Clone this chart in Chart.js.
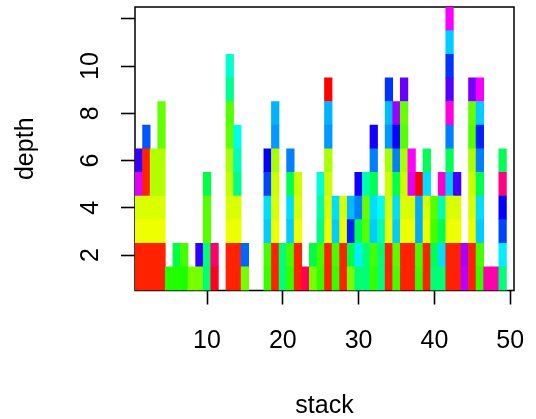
<!DOCTYPE html>
<html>
<head>
<meta charset="utf-8">
<script src="https://cdn.jsdelivr.net/npm/chart.js@4.4.1/dist/chart.umd.min.js"></script>
<style>
  html, body { margin: 0; background: #fff; }
</style>
</head>
<body>
<canvas id="stackChart" width="536" height="419"></canvas>
<script>
// x positions of the stacks
const stacks = Array.from({ length: 50 }, (_, i) => i + 1);
const stackTicks = [10, 20, 30, 40, 50];
const depthTicks = [2, 4, 6, 8, 10, 12];
const depthTickLabels = ['2', '4', '6', '8', '10', ''];

// hue of every cell, one list per stack, bottom cell first
const cellHues = [
  [8, 8, 64, 69, 292, 252],
  [8, 8, 64, 69, 8, 8, 220],
  [8, 8, 64, 69, 78, 78],
  [8, 8, 64, 69, 78, 78, 96, 96],
  [112],
  [112, 136],
  [114, 104],
  [92],
  [92, 252],
  [148, 148, 100, 100, 136],
  [352, 336],
  [],
  [8, 8, 64, 69, 74, 80, 96, 100, 154, 168],
  [8, 8, 64, 69, 152, 164, 174],
  [92, 216],
  [],
  [],
  [108, 104, 192, 188, 224, 240],
  [8, 8, 64, 69, 72, 80, 204, 198],
  [148, 148],
  [108, 104, 192, 188, 140, 210],
  [8, 8, 64, 69, 72],
  [340],
  [92, 136],
  [108, 104, 152, 160, 172],
  [8, 8, 64, 69, 72, 80, 204, 198, 0],
  [108, 104, 192, 188],
  [8, 8, 64, 69],
  [92, 136, 232, 196],
  [148, 184, 140, 210, 244],
  [148, 148, 100, 96, 160],
  [108, 104, 192, 188, 140, 210, 244],
  [148, 148, 162, 176],
  [8, 8, 64, 69, 72, 80, 204, 196, 228],
  [104, 100, 192, 188, 140, 210, 244, 276],
  [8, 8, 64, 69, 72, 80, 100, 96, 264],
  [8, 8, 64, 69, 292, 300],
  [108, 104, 200, 200, 0],
  [8, 8, 64, 69, 188, 140],
  [148, 140, 104, 100],
  [148, 188, 140, 162, 312],
  [8, 8, 64, 69, 192, 140, 210, 308, 260, 228, 192, 298],
  [8, 8, 64, 69, 256],
  [284, 280],
  [8, 8, 64, 69, 72, 80, 100, 96, 268],
  [108, 104, 192, 188, 140, 210, 232, 192, 298],
  [320],
  [320],
  [148, 184, 224, 240, 330, 140],
  []
];

const FONT = '25px "Liberation Sans", Arial, Helvetica, sans-serif';
const hueColor = h => `hsl(${h}, 100%, 50%)`;

// one floating-bar dataset per depth level; every cell spans depth +/- 0.5
const maxDepth = Math.max(...cellHues.map(c => c.length));
const datasets = [];
for (let d = 1; d <= maxDepth; d++) {
  const idx = stacks.map((_, i) => i).filter(i => cellHues[i].length >= d);
  datasets.push({
    label: 'depth ' + d,
    data: idx.map(i => ({ x: stacks[i], y: [d - 0.5, d + 0.5] })),
    backgroundColor: idx.map(i => hueColor(cellHues[i][d - 1])),
    borderWidth: 0,
    grouped: false,
    barPercentage: 1,
    categoryPercentage: 1,
  });
}

// plot box under the cells, axis text on top
const framePlugin = {
  id: 'frame',
  beforeDatasetsDraw(chart) {
    const { ctx, chartArea: a } = chart;
    ctx.save();
    ctx.strokeStyle = '#000';
    ctx.lineWidth = 1.5;
    ctx.strokeRect(a.left, a.top, a.right - a.left, a.bottom - a.top);
    ctx.restore();
  },
  afterDraw(chart) {
    const { ctx, chartArea: a, scales } = chart;
    ctx.save();
    ctx.fillStyle = '#000';
    ctx.font = FONT;
    ctx.textAlign = 'center';
    ctx.textBaseline = 'alphabetic';

    stackTicks.forEach(v => {
      ctx.fillText(String(v), scales.x.getPixelForValue(v), 348);
    });
    ctx.fillText('stack', (a.left + a.right) / 2, 413);

    depthTicks.forEach((v, i) => {
      ctx.save();
      ctx.translate(98, scales.y.getPixelForValue(v));
      ctx.rotate(-Math.PI / 2);
      ctx.fillText(depthTickLabels[i], 0, 0);
      ctx.restore();
    });

    ctx.translate(33, (a.top + a.bottom) / 2);
    ctx.rotate(-Math.PI / 2);
    ctx.fillText('depth', 0, 0);
    ctx.restore();
  }
};

const axisGrid = {
  drawOnChartArea: false,
  drawTicks: true,
  tickLength: 14,
  tickColor: '#000',
  tickWidth: 1.6,
  offset: false,
};

new Chart(document.getElementById('stackChart'), {
  type: 'bar',
  data: { datasets },
  plugins: [framePlugin],
  options: {
    responsive: false,
    animation: false,
    devicePixelRatio: 1,
    layout: { padding: { left: 0, right: 22, top: 7, bottom: 0 } },
    plugins: { legend: { display: false }, tooltip: { enabled: false } },
    scales: {
      x: {
        type: 'linear',
        min: 0.5,
        max: 50.5,
        offset: false,
        afterBuildTicks: s => { s.ticks = stackTicks.map(value => ({ value })); },
        afterFit: s => { s.height = 128.5; },
        ticks: { display: false },
        grid: axisGrid,
        border: { display: false },
      },
      y: {
        type: 'linear',
        min: 0.5,
        max: 12.5,
        afterBuildTicks: s => { s.ticks = depthTicks.map(value => ({ value })); },
        afterFit: s => { s.width = 135; },
        ticks: { display: false },
        grid: axisGrid,
        border: { display: false },
      },
    },
  },
});
</script>
</body>
</html>
